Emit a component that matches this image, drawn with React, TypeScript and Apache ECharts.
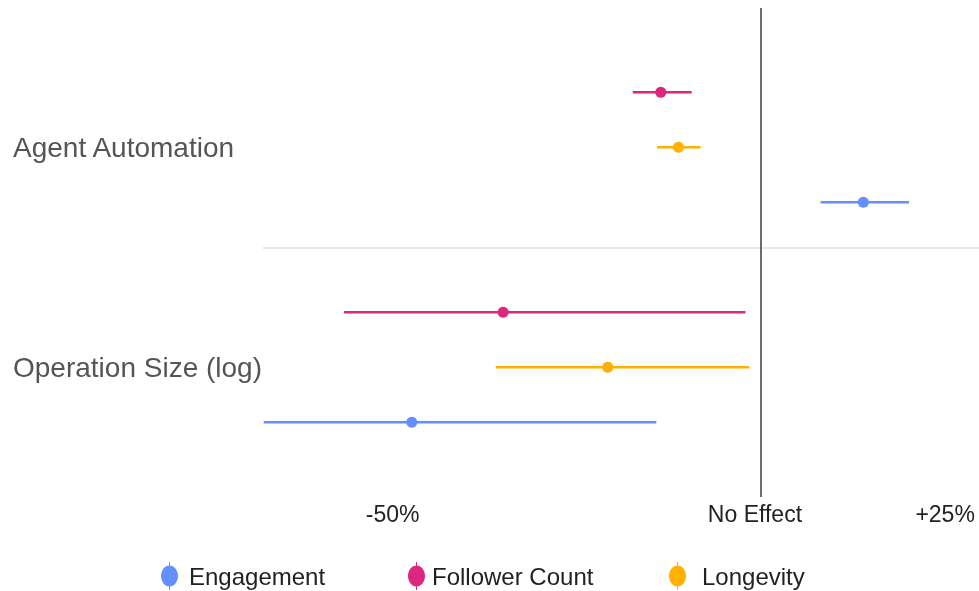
import React, { useEffect, useRef } from "react";
import * as echarts from "echarts";

const categories = ["Agent Automation", "Operation Size (log)"];
const outcomes = ["Follower Count", "Longevity", "Engagement"];
const colors = ["#DC267F", "#FFB000", "#648FFF"];
// [lower, estimate, upper] in % change, one per category
const followerCount = [
  [-17.4, -13.6, -9.4],
  [-56.6, -35.0, -2.1],
];
const longevity = [
  [-14.1, -11.2, -8.2],
  [-36.0, -20.8, -1.6],
];
const engagement = [
  [8.1, 13.9, 20.1],
  [-67.5, -47.4, -14.2],
];
const xTickValues = [-50, 0, 25];
const xTickLabels = ["-50%", "No Effect", "+25%"];
const legendOrder = ["Engagement", "Follower Count", "Longevity"];

const seriesValues = [followerCount, longevity, engagement];
const FONT = "'Liberation Sans', Arial, Helvetica, sans-serif";
const ICON =
  "path://M8,0 L9,0 L9,28 L8,28 Z M8.5,3.5 C13.2,3.5 17,8.2 17,14 C17,19.8 13.2,24.5 8.5,24.5 C3.8,24.5 0,19.8 0,14 C0,8.2 3.8,3.5 8.5,3.5 Z";

export default function App() {
  const ref = useRef<HTMLDivElement>(null);
  useEffect(() => {
    if (!ref.current) return;
    const chart = echarts.init(ref.current, null, { renderer: "svg" });
    const series: any[] = outcomes.map((name, si) => ({
      name,
      type: "custom",
      color: colors[si],
      itemStyle: { color: colors[si] },
      data: seriesValues[si].map((v, ci) => [ci, v[0], v[1], v[2]]),
      encode: { x: [1, 2, 3] },
      renderItem: (params: any, api: any) => {
        const ci = api.value(0);
        const row = ci * 4 + si;
        const p0 = api.coord([api.value(1), row]);
        const p1 = api.coord([api.value(2), row]);
        const p2 = api.coord([api.value(3), row]);
        return {
          type: "group",
          children: [
            {
              type: "line",
              shape: { x1: p0[0], y1: p0[1], x2: p2[0], y2: p2[1] },
              style: { stroke: colors[si], lineWidth: 2.5 },
            },
            {
              type: "circle",
              shape: { cx: p1[0], cy: p1[1], r: 5.5 },
              style: { fill: colors[si] },
            },
          ],
        };
      },
    }));
    series.push({
      name: "ref",
      type: "line",
      data: [],
      silent: true,
      markLine: {
        silent: true,
        symbol: "none",
        label: { show: false },
        animation: false,
        data: [
          { yAxis: 2.835, lineStyle: { color: "#e8e8e8", width: 2, type: "solid" } },
          { xAxis: 0, lineStyle: { color: "#6e6e6e", width: 2, type: "solid" } },
        ],
      },
    });
    const legendLefts = [161, 408, 669];
    const legendPads = [6, 2, 11];
    const legends = legendOrder.map((name, i) => ({
      data: [name],
      left: legendLefts[i],
      top: 562,
      padding: 0,
      orient: "horizontal",
      icon: ICON,
      itemWidth: 17,
      itemHeight: 28,
      selectedMode: false,
      textStyle: {
        fontSize: 24,
        color: "#222",
        fontFamily: FONT,
        padding: [0, 0, 0, legendPads[i]],
      },
    }));
    chart.setOption({
      animation: false,
      textStyle: { fontFamily: FONT },
      grid: { left: 263, right: 0, top: 8, bottom: 94, containLabel: false },
      xAxis: {
        type: "value",
        min: -67.6,
        max: 29.6,
        axisLine: { show: false },
        axisTick: { show: false },
        splitLine: { show: false },
        axisLabel: {
          customValues: xTickValues,
          fontSize: 23,
          color: "#222",
          fontFamily: FONT,
          margin: 5,
          formatter: (v: number) => {
            const i = xTickValues.indexOf(v);
            if (i < 0) return "";
            return v === 0 ? "{s|" + xTickLabels[i] + "}" : xTickLabels[i];
          },
          rich: {
            s: { fontSize: 23, color: "#222", fontFamily: FONT, padding: [0, 12, 0, 0] },
          },
        },
      },
      yAxis: {
        type: "value",
        inverse: true,
        min: -1.53,
        max: 7.36,
        axisLine: { show: false },
        axisTick: { show: false },
        splitLine: { show: false },
        axisLabel: {
          customValues: [1, 5],
          align: "left",
          margin: 250,
          fontSize: 28,
          color: "#555",
          fontFamily: FONT,
          padding: [0, 0, 4, 0],
          formatter: (v: number) => {
            if (v === 1) return categories[0];
            if (v === 5) return categories[1];
            return "";
          },
        },
      },
      legend: legends,
      series,
    });
    return () => chart.dispose();
  }, []);
  return (
    <div
      ref={ref}
      style={{ position: "fixed", left: 0, top: 0, width: 979, height: 591 }}
    />
  );
}
